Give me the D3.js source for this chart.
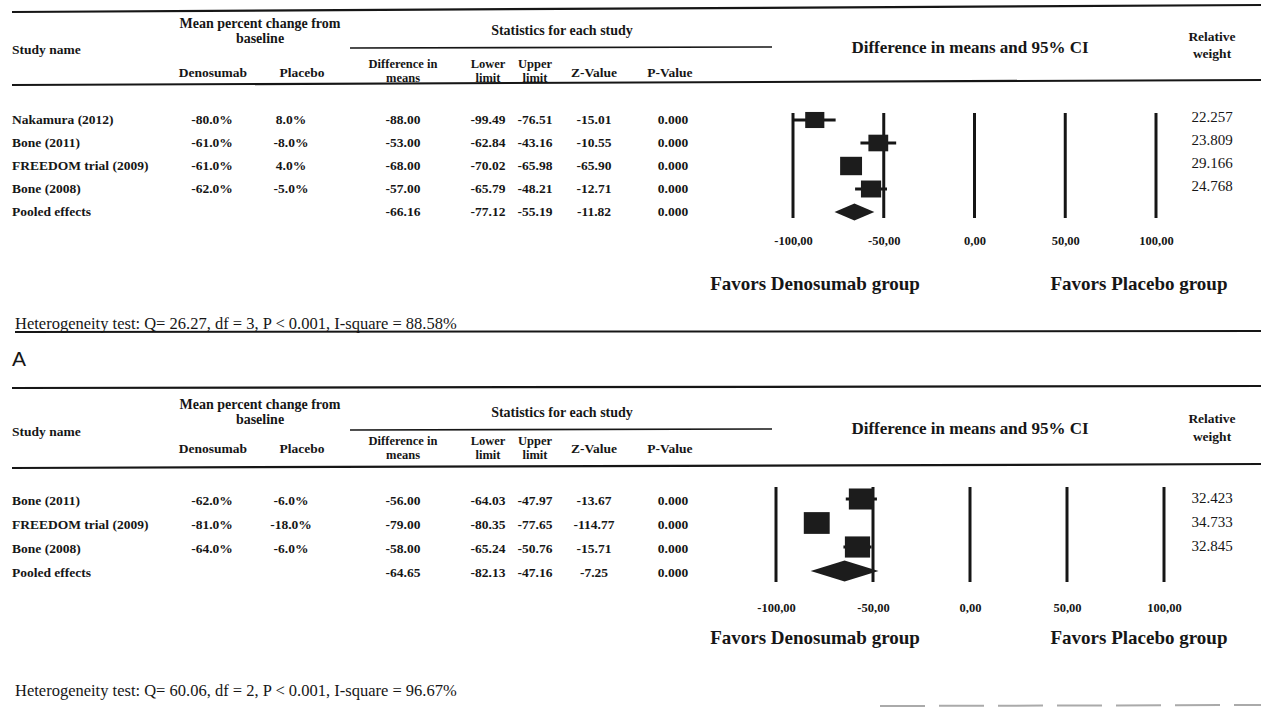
<!DOCTYPE html>
<html>
<head>
<meta charset="utf-8">
<script src="https://cdn.jsdelivr.net/npm/d3@7"></script>
<style>
  body { margin: 0; background: #fff; }
  svg { display: block; }
</style>
</head>
<body>
<script>
// ---------- Panel A: Denosumab vs placebo ----------
const studiesA   = ["Nakamura (2012)", "Bone (2011)", "FREEDOM trial (2009)", "Bone (2008)", "Pooled effects"];
const denosumabA = [-80.0, -61.0, -61.0, -62.0, null];
const placeboA   = [8.0, -8.0, 4.0, -5.0, null];
const diffA      = [-88.00, -53.00, -68.00, -57.00, -66.16];
const lowerA     = [-99.49, -62.84, -70.02, -65.79, -77.12];
const upperA     = [-76.51, -43.16, -65.98, -48.21, -55.19];
const zA         = [-15.01, -10.55, -65.90, -12.71, -11.82];
const pA         = [0.000, 0.000, 0.000, 0.000, 0.000];
const weightsA   = [22.257, 23.809, 29.166, 24.768];
const hetA       = "Heterogeneity test: Q= 26.27, df = 3, P < 0.001, I-square = 88.58%";

// ---------- Panel B ----------
const studiesB   = ["Bone (2011)", "FREEDOM trial (2009)", "Bone (2008)", "Pooled effects"];
const denosumabB = [-62.0, -81.0, -64.0, null];
const placeboB   = [-6.0, -18.0, -6.0, null];
const diffB      = [-56.00, -79.00, -58.00, -64.65];
const lowerB     = [-64.03, -80.35, -65.24, -82.13];
const upperB     = [-47.97, -77.65, -50.76, -47.16];
const zB         = [-13.67, -114.77, -15.71, -7.25];
const pB         = [0.000, 0.000, 0.000, 0.000];
const weightsB   = [32.423, 34.733, 32.845];
const hetB       = "Heterogeneity test: Q= 60.06, df = 2, P < 0.001, I-square = 96.67%";

// Axis of the forest plot
const axisTicks  = [-100, -50, 0, 50, 100];
const axisDomain = [-100, 100];
const favorsLeft  = "Favors Denosumab group";
const favorsRight = "Favors Placebo group";

// ---------- drawing ----------
const W = 1261, H = 710;
const INK = "#161616";
const SERIF = "'Liberation Serif', 'Times New Roman', serif";

const svg = d3.select("body").append("svg")
  .attr("width", W).attr("height", H)
  .style("background", "#fff");

// plain hyphen-minus, point decimals for the table; comma decimals on the axis
const locTable = d3.formatLocale({ decimal: ".", thousands: ",", grouping: [3], currency: ["", ""], minus: "-" });
const locAxis  = d3.formatLocale({ decimal: ",", thousands: ".", grouping: [3], currency: ["", ""], minus: "-" });
const pct  = v => v == null ? "" : locTable.format(".1f")(v) + "%";
const num2 = locTable.format(".2f");
const num3 = locTable.format(".3f");
const tickFmt = locAxis.format(".2f");

// column centres of the statistics table
const COL = { name: 12, deno: 212, denoHead: 213, plac: 291, placHead: 302,
              diff: 403, lower: 488, upper: 535, z: 594, p: 673, weight: 1212 };

function txt(g, x, y, s, size, opts = {}) {
  return g.append("text")
    .attr("x", x).attr("y", y)
    .attr("text-anchor", opts.anchor || "middle")
    .attr("dominant-baseline", "central")
    .attr("font-family", opts.family || SERIF)
    .attr("font-size", size)
    .attr("font-weight", opts.weight || "bold")
    .attr("fill", INK)
    .text(s);
}

function rule(g, x1, x2, y1, y2, w = 2) {
  g.append("line")
    .attr("x1", x1).attr("x2", x2).attr("y1", y1).attr("y2", y2)
    .attr("stroke", INK).attr("stroke-width", w);
}

const HEAD = 13.5, DATA = 13.5;

function drawPanel(d, L) {
  const g = svg.append("g");

  // table rules
  rule(g, 12, W, L.topL, L.topR, 2.2);
  rule(g, 350, 772, L.statsRule, L.statsRule - 1, 1.6);
  rule(g, 12, W, L.headL, L.headR, 2.2);

  // headers
  txt(g, COL.name, L.studyY, "Study name", HEAD, { anchor: "start" });
  txt(g, 260, L.meanY1, "Mean percent change from", HEAD + 0.5);
  txt(g, 260, L.meanY2, "baseline", HEAD + 0.5);
  txt(g, COL.denoHead, L.subY, "Denosumab", HEAD);
  txt(g, COL.placHead, L.subY, "Placebo", HEAD);
  txt(g, 562, L.statsY, "Statistics for each study", HEAD + 0.5);
  [["Difference in", "means", COL.diff], ["Lower", "limit", COL.lower], ["Upper", "limit", COL.upper]]
    .forEach(([a, b, x]) => { txt(g, x, L.sub2Y1, a, 12.5); txt(g, x, L.sub2Y2, b, 12.5); });
  txt(g, COL.z, L.subY, "Z-Value", HEAD);
  txt(g, COL.p - 3, L.subY, "P-Value", HEAD);
  txt(g, 970, L.ciY, "Difference in means and 95% CI", 17);
  txt(g, COL.weight, L.relY1, "Relative", 13.5);
  txt(g, COL.weight, L.relY2, "weight", 13.5);

  // rows
  const y = d3.scalePoint().domain(d3.range(d.studies.length)).range([L.row0, L.rowN]);
  d.studies.forEach((s, i) => {
    const yy = y(i);
    txt(g, COL.name, yy, s, DATA, { anchor: "start" });
    txt(g, COL.deno, yy, pct(d.deno[i]), DATA);
    txt(g, COL.plac, yy, pct(d.plac[i]), DATA);
    txt(g, COL.diff, yy, num2(d.diff[i]), DATA);
    txt(g, COL.lower, yy, num2(d.lower[i]), DATA);
    txt(g, COL.upper, yy, num2(d.upper[i]), DATA);
    txt(g, COL.z, yy, num2(d.z[i]), DATA);
    txt(g, COL.p, yy, num3(d.p[i]), DATA);
    if (i < d.weights.length) txt(g, COL.weight, yy - 2, num3(d.weights[i]), 15, { weight: "normal" });
  });

  // forest plot
  const x = d3.scaleLinear().domain(axisDomain).range(L.xRange);
  const size = d3.scaleSqrt().domain([0, 35]).range([0, L.boxMax]);

  g.selectAll(".ref").data(axisTicks).join("line")
    .attr("x1", x).attr("x2", x)
    .attr("y1", L.lineTop).attr("y2", L.lineBot)
    .attr("stroke", INK).attr("stroke-width", 3);

  const n = d.studies.length;
  d3.range(n - 1).forEach(i => {
    const yy = y(i) + L.markDy;
    g.append("line")
      .attr("x1", x(d.lower[i])).attr("x2", x(d.upper[i]))
      .attr("y1", yy).attr("y2", yy)
      .attr("stroke", INK).attr("stroke-width", 3);
    const s = size(d.weights[i]);
    g.append("rect")
      .attr("x", x(d.diff[i]) - s / 2).attr("y", yy - s * 0.42)
      .attr("width", s).attr("height", s * 0.84)
      .attr("fill", "#1c1c1c");
  });
  const pi = n - 1, py = y(pi) + L.markDy, dh = L.diamond / 2;
  g.append("path")
    .attr("d", `M${x(d.lower[pi])},${py}L${x(d.diff[pi])},${py - dh}L${x(d.upper[pi])},${py}L${x(d.diff[pi])},${py + dh}Z`)
    .attr("fill", "#1c1c1c");

  // axis labels
  const ax = g.append("g").attr("transform", `translate(0,${L.tickY})`)
    .call(d3.axisBottom(x).tickValues(axisTicks).tickSize(0).tickFormat(tickFmt));
  ax.select(".domain").remove();
  ax.selectAll("text")
    .attr("y", 0).attr("dy", "0.35em")
    .attr("font-family", SERIF).attr("font-size", 12.5).attr("font-weight", "bold")
    .attr("fill", INK);

  txt(g, 815, L.favY, favorsLeft, 19);
  txt(g, 1139, L.favY, favorsRight, 19);

  // heterogeneity footnote
  txt(g, 15, L.hetY, d.het, 16.5, { anchor: "start", weight: "normal" });
  return g;
}

drawPanel(
  { studies: studiesA, deno: denosumabA, plac: placeboA, diff: diffA, lower: lowerA,
    upper: upperA, z: zA, p: pA, weights: weightsA, het: hetA },
  { topL: 12, topR: 5, statsRule: 48, headL: 85, headR: 80,
    meanY1: 23, meanY2: 38, statsY: 30, studyY: 49, subY: 72, sub2Y1: 64, sub2Y2: 78,
    ciY: 47, relY1: 36, relY2: 53,
    row0: 119, rowN: 211, markDy: 1,
    xRange: [793, 1156], boxMax: 24, diamond: 17,
    lineTop: 113, lineBot: 218, tickY: 241, favY: 283, hetY: 323 }
);
// footnote rule of panel A
rule(svg, 15, W, 332, 331, 2);
txt(svg, 12, 358, "A", 21, { anchor: "start", weight: "normal", family: "'Liberation Sans', Arial, sans-serif" });

drawPanel(
  { studies: studiesB, deno: denosumabB, plac: placeboB, diff: diffB, lower: lowerB,
    upper: upperB, z: zB, p: pB, weights: weightsB, het: hetB },
  { topL: 388, topR: 386, statsRule: 430, headL: 468, headR: 464,
    meanY1: 404, meanY2: 419, statsY: 412, studyY: 431, subY: 448, sub2Y1: 441, sub2Y2: 455,
    ciY: 428, relY1: 418, relY2: 436,
    row0: 500, rowN: 572, markDy: -1,
    xRange: [776, 1164], boxMax: 26, diamond: 21,
    lineTop: 487, lineBot: 582, tickY: 608, favY: 637, hetY: 690 }
);

// faint edge of the following table
svg.append("line")
  .attr("x1", 880).attr("x2", W).attr("y1", 706).attr("y2", 705)
  .attr("stroke", "#aaa").attr("stroke-width", 2).attr("stroke-dasharray", "45,14");
</script>
</body>
</html>
